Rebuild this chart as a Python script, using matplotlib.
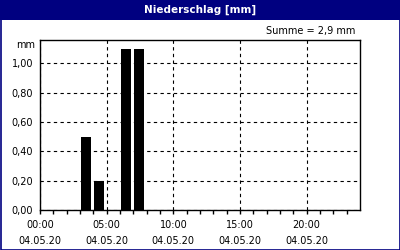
import matplotlib
matplotlib.use("Agg")
import matplotlib.pyplot as plt
from matplotlib.patches import Rectangle

# hourly precipitation on 04.05.20 (mm)
hours = list(range(24))
rain = [0, 0, 0, 0.5, 0.2, 0, 1.1, 1.1, 0, 0, 0, 0,
        0, 0, 0, 0, 0, 0, 0, 0, 0, 0, 0, 0]
y_ticks = [0.0, 0.2, 0.4, 0.6, 0.8, 1.0]
x_ticks = [0, 5, 10, 15, 20]
x_labels = ["00:00\n04.05.20", "05:00\n04.05.20", "10:00\n04.05.20",
            "15:00\n04.05.20", "20:00\n04.05.20"]
total = sum(rain)

NAVY = "#000080"

fig = plt.figure(figsize=(4, 2.5), dpi=100)
fig.patch.set_facecolor("white")

# title bar and frame
fig.patches.append(Rectangle((0, 1 - 20 / 250), 1, 20 / 250, transform=fig.transFigure,
                             facecolor=NAVY, edgecolor="none", zorder=0))
fig.patches.append(Rectangle((0.5 / 400, 0.5 / 250), 1 - 1 / 400, 1 - 1 / 250,
                             transform=fig.transFigure, facecolor="none",
                             edgecolor=NAVY, linewidth=1.2, zorder=5))
fig.text(0.5, 1 - 10 / 250, "Niederschlag [mm]", color="white", fontweight="bold",
         fontsize=7.5, ha="center", va="center")

ax = fig.add_axes([40 / 400, 40 / 250, 320 / 400, 170 / 250])
ax.bar([h + 0.05 for h in hours], rain, width=0.75, align="edge", color="black", zorder=3)

ax.set_xlim(0, 24)
ax.set_ylim(0, 1.16)
ax.set_xticks(x_ticks)
ax.set_xticklabels(x_labels, linespacing=1.75)
ax.set_xticks(hours, minor=True)
ax.set_yticks(y_ticks)
ax.set_yticklabels([f"{v:.2f}".replace(".", ",") for v in y_ticks])
ax.tick_params(axis="x", which="both", direction="out", length=3, width=1,
               labelsize=7, pad=4)
ax.tick_params(axis="y", length=0, labelsize=7, pad=5)
ax.grid(True, which="major", color="black", linestyle=(0, (3, 3)), linewidth=0.8)
for s in ax.spines.values():
    s.set_linewidth(1)
    s.set_color("black")

fig.text(35 / 400, 1 - 45 / 250, "mm", fontsize=7, ha="right", va="center")
fig.text(355 / 400, 1 - 31 / 250, f"Summe = {total:.1f} mm".replace(".", ","),
         fontsize=7, ha="right", va="center")

fig.savefig("out.png", dpi=100)
